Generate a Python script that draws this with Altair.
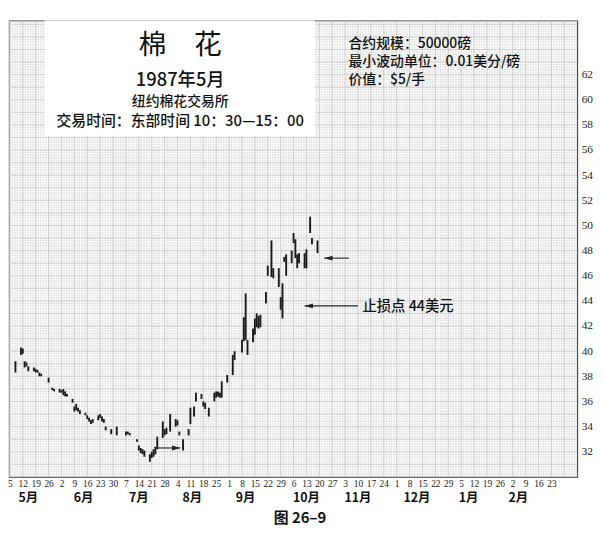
import altair as alt
import pandas as pd
import numpy as np

# ---------------- data ----------------
bar_dates = [
    "1987-05-08", "1987-05-11", "1987-05-12", "1987-05-13", "1987-05-14", "1987-05-15",
    "1987-05-18", "1987-05-19", "1987-05-20", "1987-05-21", "1987-05-22", "1987-05-26",
    "1987-05-28", "1987-05-29", "1987-06-01", "1987-06-02", "1987-06-03", "1987-06-04",
    "1987-06-05", "1987-06-08", "1987-06-09", "1987-06-10", "1987-06-11", "1987-06-12",
    "1987-06-15", "1987-06-16", "1987-06-17", "1987-06-18", "1987-06-19", "1987-06-22",
    "1987-06-23", "1987-06-24", "1987-06-25", "1987-06-26", "1987-06-29", "1987-07-02",
    "1987-07-07", "1987-07-08", "1987-07-09", "1987-07-13", "1987-07-14", "1987-07-15",
    "1987-07-16", "1987-07-17", "1987-07-20", "1987-07-21", "1987-07-22", "1987-07-23",
    "1987-07-24", "1987-07-27", "1987-07-28", "1987-07-29", "1987-07-31", "1987-08-03",
    "1987-08-04", "1987-08-05", "1987-08-07", "1987-08-10", "1987-08-11", "1987-08-13",
    "1987-08-14", "1987-08-17", "1987-08-18", "1987-08-19", "1987-08-21", "1987-08-24",
    "1987-08-25", "1987-08-26", "1987-08-27", "1987-08-28", "1987-08-31", "1987-09-03",
    "1987-09-04", "1987-09-08", "1987-09-09", "1987-09-10", "1987-09-11", "1987-09-14",
    "1987-09-15", "1987-09-16", "1987-09-17", "1987-09-18", "1987-09-21", "1987-09-22",
    "1987-09-24", "1987-09-25", "1987-09-28", "1987-09-29", "1987-09-30", "1987-10-01",
    "1987-10-02", "1987-10-05", "1987-10-06", "1987-10-07", "1987-10-08", "1987-10-09",
    "1987-10-12", "1987-10-13", "1987-10-15", "1987-10-16", "1987-10-19",
]
bar_lows = [
    38.3, 39.7, 39.8, 38.7, 38.8, 38.4,
    38.4, 38.3, 38.3, 38.0, 38.0, 37.5,
    36.9, 36.8, 36.7, 36.7, 36.5, 36.4,
    36.4, 35.9, 35.2, 35.3, 35.2, 35.0,
    34.9, 34.6, 34.4, 34.2, 34.3, 34.5,
    34.7, 34.4, 34.3, 33.7, 33.4, 33.3,
    33.3, 33.4, 33.3, 32.8, 32.1, 31.9,
    31.8, 31.6, 31.2, 31.5, 31.6, 31.8,
    32.2, 33.1, 33.3, 33.4, 33.6, 34.0,
    34.1, 33.3, 32.1, 33.3, 34.2, 34.8,
    36.0, 36.2, 35.6, 35.4, 34.8, 36.0,
    36.3, 36.4, 36.3, 36.3, 37.5, 38.1,
    39.3, 39.9, 40.8, 40.9, 39.7, 40.7,
    41.3, 41.9, 41.8, 41.9, 43.8, 46.0,
    45.9, 45.8, 45.1, 43.3, 42.6, 47.1,
    46.0, 47.0, 48.6, 47.4, 46.6, 47.0,
    46.6, 46.6, 49.4, 48.5, 47.8,
]
bar_highs = [
    39.2, 40.3, 40.2, 39.2, 39.1, 38.8,
    38.7, 38.6, 38.5, 38.3, 38.2, 37.9,
    37.1, 37.0, 37.0, 36.9, 37.0, 36.8,
    36.6, 36.2, 35.6, 35.8, 35.5, 35.3,
    35.1, 34.9, 34.7, 34.5, 34.6, 34.9,
    35.0, 34.8, 34.6, 34.0, 33.8, 34.0,
    33.6, 33.6, 33.5, 33.0, 32.5, 32.3,
    32.2, 32.1, 31.8, 32.0, 32.2, 32.4,
    33.2, 34.4, 33.8, 33.9, 35.0, 34.6,
    34.5, 33.6, 33.0, 33.8, 35.5, 35.6,
    36.7, 36.6, 36.0, 35.9, 35.5, 36.7,
    36.8, 36.8, 36.7, 37.6, 38.1, 39.7,
    40.0, 40.9, 42.7, 44.6, 40.9, 41.8,
    42.6, 43.0, 42.8, 42.9, 44.7, 46.8,
    48.8, 46.6, 46.6, 44.3, 45.4, 47.5,
    47.7, 48.0, 49.4, 48.9, 47.7, 47.8,
    47.8, 48.1, 50.7, 49.0, 48.8,
]

tick_first = "1987-05-05"
tick_last = "1988-02-23"
y_ticks = list(range(32, 63, 2))

month_names = ["5月", "6月", "7月", "8月", "9月", "10月", "11月", "12月", "1月", "2月"]
month_dates = ["1987-05-15", "1987-06-14", "1987-07-14", "1987-08-12", "1987-09-10",
               "1987-10-13", "1987-11-10", "1987-12-12", "1988-01-09", "1988-02-05"]

title_lines = ["棉　花", "1987年5月", "纽约棉花交易所", "交易时间：东部时间 10：30—15：00"]
spec_lines = ["合约规模：50000磅", "最小波动单位：0.01美分/磅", "价值：$5/手"]
stop_text = "止损点  44美元"
caption = "图 26–9"

# arrows: start date, end date (head), price
arrow_starts = ["1987-11-10", "1987-11-05", "1987-07-24"]
arrow_heads = ["1987-10-12", "1987-10-22T16:00:00", "1987-08-05T12:00:00"]
arrow_prices = [43.6, 47.4, 32.3]
arrow_dirs = ["left", "left", "right"]

# ---------------- build ----------------
FMT = "%Y-%m-%dT%H:%M:%S"
W, H = 574, 461
SERIF = "Liberation Serif"
CJK = "Noto Sans CJK SC"

def iso(s):
    return pd.Timestamp(s).strftime(FMT)

bars = pd.DataFrame({"date": [iso(d) for d in bar_dates], "low": bar_lows, "high": bar_highs})

xs = alt.Scale(domain=[alt.DateTime(year=1987, month=5, date=4, hours=12),
                       alt.DateTime(year=1988, month=3, date=8)])
ys = alt.Scale(domain=[30, 66.3], nice=False, zero=False)

weekly = pd.date_range(tick_first, tick_last, freq="7D")
tick_vals = [alt.DateTime(year=t.year, month=t.month, date=t.day) for t in weekly]

XAX = alt.Axis(values=tick_vals, format="%-d", labelFont=SERIF, labelFontSize=9.5,
               labelColor="#222", ticks=False, domain=False, grid=False, labelPadding=2,
               labelOverlap=False, labelFlush=False, labelBound=False, title=None)
YAX = alt.Axis(orient="right", values=y_ticks, labelFont=SERIF, labelFontSize=11.5,
               labelColor="#222", ticks=False, domain=False, grid=False, labelPadding=4,
               labelOverlap=False, labelFlush=False, title=None)

minor_v = pd.DataFrame({"d": [t.strftime(FMT) for t in pd.date_range("1987-04-28", "1988-03-08", freq="33.6h")]})
major_v = pd.DataFrame({"d": [t.strftime(FMT) for t in pd.date_range("1987-04-28", "1988-03-08", freq="7D")]})
minor_h = pd.DataFrame({"v": np.round(np.arange(30, 66.4, 0.2), 2)})
major_h = pd.DataFrame({"v": np.arange(30, 67, 1)})

g1 = alt.Chart(minor_v).mark_rule(color="#dbdbdb", strokeWidth=0.6, clip=True).encode(
    x=alt.X("d:T", scale=xs, axis=XAX))
g2 = alt.Chart(minor_h).mark_rule(color="#dbdbdb", strokeWidth=0.6, clip=True).encode(
    y=alt.Y("v:Q", scale=ys, axis=YAX))
g3 = alt.Chart(major_v).mark_rule(color="#c4c4c4", strokeWidth=0.7, clip=True).encode(
    x=alt.X("d:T", scale=xs, axis=XAX))
g4 = alt.Chart(major_h).mark_rule(color="#c4c4c4", strokeWidth=0.7, clip=True).encode(
    y=alt.Y("v:Q", scale=ys, axis=YAX))

one = pd.DataFrame({"a": [0]})
box = alt.Chart(one).mark_rect(color="white").encode(
    x=alt.value(36), x2=alt.value(309), y=alt.value(0), y2=alt.value(117))

bar_layer = alt.Chart(bars).mark_rule(color="#1a1a1a", strokeWidth=1.9).encode(
    x=alt.X("date:T", scale=xs, axis=XAX),
    y=alt.Y("low:Q", scale=ys, axis=YAX),
    y2="high:Q",
)

arrows = pd.DataFrame({
    "s": [iso(d) for d in arrow_starts],
    "e": [iso(d) for d in arrow_heads],
    "p": arrow_prices,
    "dir": arrow_dirs,
})
arrow_lines = alt.Chart(arrows).mark_rule(color="#222", strokeWidth=1.1).encode(
    x=alt.X("s:T", scale=xs, axis=XAX), x2="e:T", y=alt.Y("p:Q", scale=ys, axis=YAX))
head_l = alt.Chart(arrows).transform_filter(alt.datum.dir == "left").mark_point(
    shape="M0,0L2.4,-0.7L2.4,0.7Z", filled=True, size=49, color="#222", opacity=1).encode(
    x=alt.X("e:T", scale=xs, axis=XAX), y=alt.Y("p:Q", scale=ys, axis=YAX))
head_r = alt.Chart(arrows).transform_filter(alt.datum.dir == "right").mark_point(
    shape="M0,0L-2.4,-0.7L-2.4,0.7Z", filled=True, size=49, color="#222", opacity=1).encode(
    x=alt.X("e:T", scale=xs, axis=XAX), y=alt.Y("p:Q", scale=ys, axis=YAX))

def txt(text, x, y, size, align="center", weight=500):
    return alt.Chart(one).mark_text(text=text, font=CJK, fontSize=size, align=align,
                                    baseline="middle", fontWeight=weight, color="#111").encode(
        x=alt.value(x), y=alt.value(y))

texts = [
    txt(title_lines[0], 173, 26, 28, weight="normal"),
    txt(title_lines[1], 173, 60, 18.5),
    txt(title_lines[2], 173, 82, 14),
    txt(title_lines[3], 173, 102, 15),
    txt(spec_lines[0], 343, 24, 14, "left"),
    txt(spec_lines[1], 343, 42, 14, "left"),
    txt(spec_lines[2], 343, 60, 14, "left"),
    txt(stop_text, 357, 289, 14.5, "left"),
    txt(caption, 294, 503, 15, "center", "bold"),
]

months = pd.DataFrame({"d": [iso(d) for d in month_dates], "m": month_names})
month_layer = alt.Chart(months).mark_text(font=CJK, fontSize=12.5, fontWeight="bold",
                                          color="#111", baseline="middle").encode(
    x=alt.X("d:T", scale=xs, axis=XAX), y=alt.value(H + 21), text="m:N")

chart = alt.layer(g1, g2, g3, g4, box, bar_layer, arrow_lines, head_l, head_r,
                  month_layer, *texts).properties(
    width=W, height=H, autosize=alt.AutoSizeParams(type="none"),
    padding={"left": 1, "top": 10, "right": 18, "bottom": 51},
    background="white",
).configure_view(stroke="#333", strokeWidth=1.1)

chart.save("out.html", embed_options={"renderer": "svg", "actions": False})
